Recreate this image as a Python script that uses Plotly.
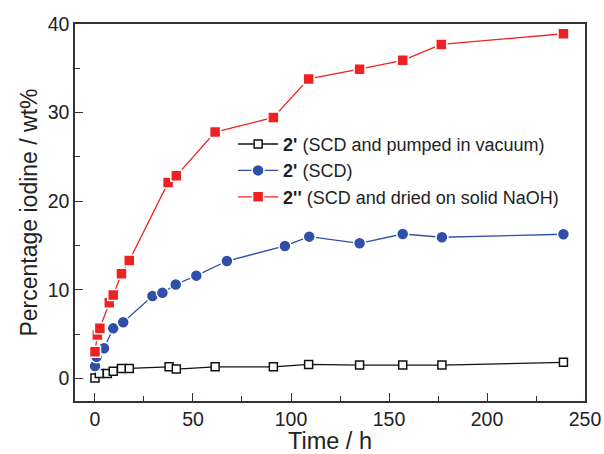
import plotly.graph_objects as go

# Data
x_black = [0, 2.2, 6.3, 9.3, 13.5, 17.5, 37.8, 41.5, 61.3, 91, 109, 135, 157, 177, 239]
y_black = [0.05, 0.56, 0.56, 0.82, 1.13, 1.13, 1.31, 1.05, 1.31, 1.31, 1.58, 1.5, 1.5, 1.5, 1.81]

x_blue = [0, 0.8, 4.6, 9.3, 14.4, 29.3, 34.4, 41.2, 51.7, 67.3, 96.9, 109.3, 135, 157, 177, 239]
y_blue = [1.39, 2.45, 3.4, 5.65, 6.33, 9.3, 9.67, 10.6, 11.6, 13.25, 14.95, 16.0, 15.25, 16.3, 15.93, 16.27]

x_red = [0, 1.2, 2.5, 7.3, 9.3, 13.5, 17.5, 37.3, 41.5, 61.3, 91, 109, 135, 157, 176.7, 239]
y_red = [3.0, 4.9, 5.65, 8.54, 9.4, 11.8, 13.3, 22.1, 22.86, 27.8, 29.45, 33.8, 34.9, 35.9, 37.7, 38.9]

names = ["<b>2'</b> (SCD and pumped in vacuum)",
         "<b>2'</b> (SCD)",
         "<b>2''</b> (SCD and dried on solid NaOH)"]

x_ticks = [0, 50, 100, 150, 200, 250]
y_ticks = [0, 10, 20, 30, 40]

FONT = "Liberation Sans, Arial, sans-serif"
AX = "#333333"

fig = go.Figure()
fig.add_trace(go.Scatter(
    x=x_black, y=y_black, name=names[0], mode="lines+markers",
    line=dict(color="#111111", width=1.3),
    marker=dict(symbol="square", size=8, color="white", line=dict(color="#111111", width=1.5)),
))
fig.add_trace(go.Scatter(
    x=x_blue, y=y_blue, name=names[1], mode="lines+markers",
    line=dict(color="#2f4fa8", width=1.3),
    marker=dict(symbol="circle", size=12, color="#2f4fa8", line=dict(color="white", width=1.5)),
))
fig.add_trace(go.Scatter(
    x=x_red, y=y_red, name=names[2], mode="lines+markers",
    line=dict(color="#ee2222", width=1.3),
    marker=dict(symbol="square", size=11, color="#ee2222", line=dict(color="white", width=1.5)),
))

fig.update_layout(
    width=604, height=454,
    margin=dict(l=75, r=19, t=24, b=53),
    paper_bgcolor="white", plot_bgcolor="white",
    font=dict(family=FONT, color="#222222"),
    showlegend=True,
    legend=dict(x=0.31, y=0.73, xanchor="left", yanchor="top",
                bgcolor="rgba(0,0,0,0)", borderwidth=0,
                font=dict(size=18, family=FONT, color="#222222"),
                tracegroupgap=0, itemwidth=40),
)
fig.update_xaxes(
    range=[-10.2, 250.0], tickvals=x_ticks, ticks="inside", ticklen=8, tickwidth=1.3,
    tickcolor=AX, showline=True, linecolor=AX, linewidth=1.5, mirror=True, automargin=False,
    showgrid=False, zeroline=False, tickfont=dict(size=19.5),
    minor=dict(tickvals=[25, 75, 125, 175, 225], ticks="inside", ticklen=5, tickcolor=AX, tickwidth=1.2, showgrid=False),
    title=dict(text="Time / h", font=dict(size=23.5), standoff=4),
)
fig.update_yaxes(
    range=[-2.55, 40.0], tickvals=y_ticks, ticks="inside", ticklen=8, tickwidth=1.3,
    tickcolor=AX, showline=True, linecolor=AX, linewidth=1.5, mirror=True, automargin=False,
    showgrid=False, zeroline=False, tickfont=dict(size=19.5),
    minor=dict(tickvals=[5, 15, 25, 35], ticks="inside", ticklen=5, tickcolor=AX, tickwidth=1.2, showgrid=False),
    title=dict(text="Percentage iodine / wt%", font=dict(size=23), standoff=4),
)

fig.write_html("out.html")
